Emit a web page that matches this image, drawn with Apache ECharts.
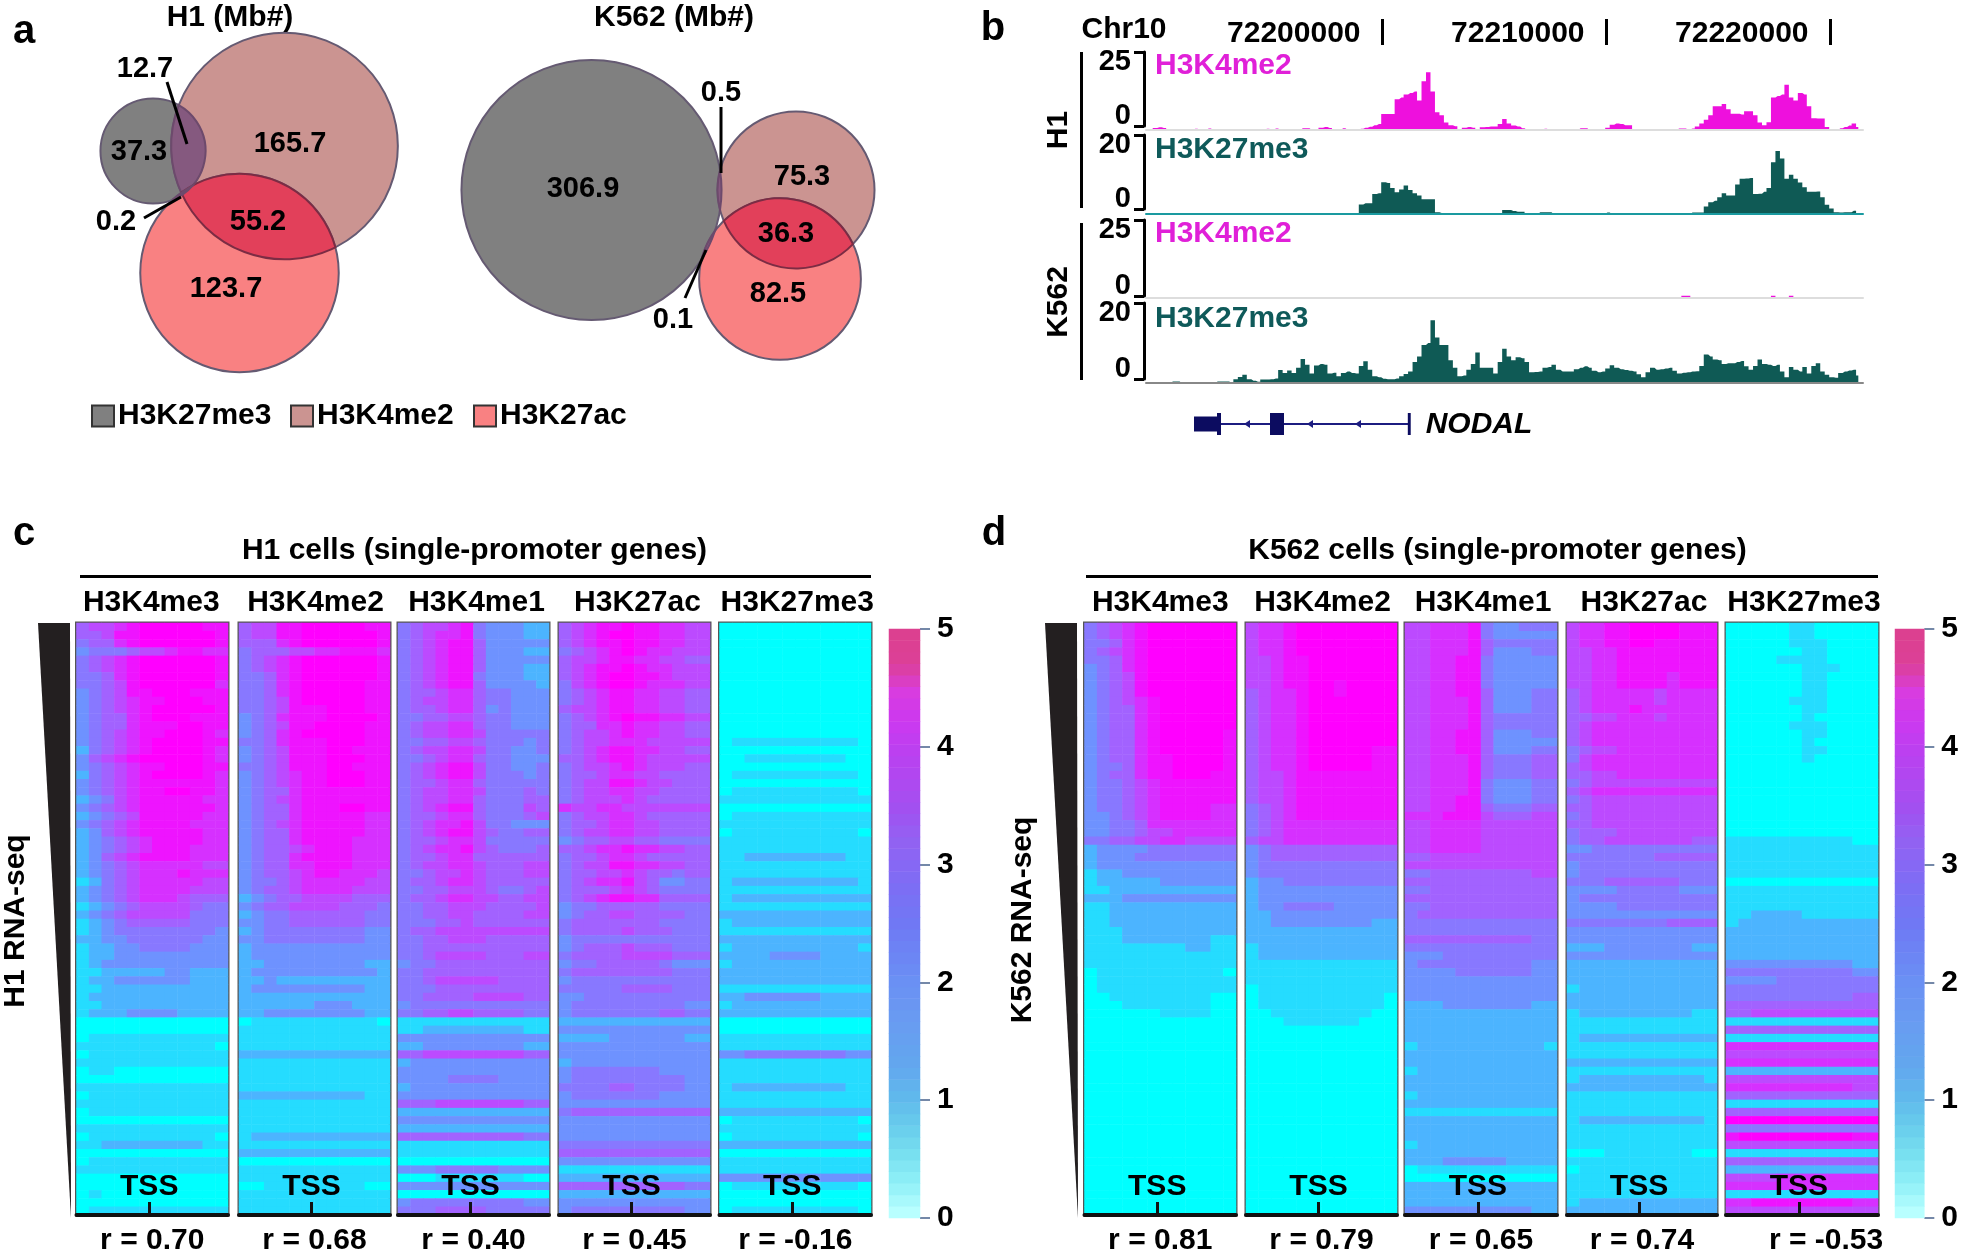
<!DOCTYPE html>
<html>
<head>
<meta charset="utf-8">
<style>html,body{margin:0;padding:0;background:#fff}#main{width:1961px;height:1257px}</style>
<script src="https://cdn.jsdelivr.net/npm/echarts@6/dist/echarts.min.js"></script>
</head>
<body>
<div id="main"></div>
<script>
// venn values, Mb
var legendNames = ['H3K27me3', 'H3K4me2', 'H3K27ac'];
var h1Values = {dark: 37.3, darkRose: 12.7, darkRed: 0.2, rose: 165.7, roseRed: 55.2, red: 123.7};
var k562Values = {dark: 306.9, darkRose: 0.5, darkRed: 0.1, rose: 75.3, roseRed: 36.3, red: 82.5};

// genome browser tracks, one value per 200 bp bin
var h1Me2 = [
    0,0,.7,.9,.7,0,0,0,0,0,0,.4,0,0,.5,0,0,0,0,0,
    0,0,0,0,0,0,0,.4,0,.5,0,0,0,0,0,.6,.6,0,0,.8,
    1,.7,0,0,.6,0,0,0,.4,.8,1.1,1.6,2,5.4,5.4,5.4,10.4,11,12,12.5,
    13,10,16.5,19.5,13,6,5,2.5,1.6,1.3,0,.8,1,.8,0,.9,1,1.2,1.2,2,
    3.7,2.2,1.5,1.2,.6,0,0,0,0,.4,0,0,0,0,0,0,0,.6,.6,0,
    0,0,0,.8,1.8,2.2,2,1.6,1.6,0,0,0,0,0,0,0,0,0,0,.5,
    .5,.2,.5,1.2,2.2,3.5,5,8,8,8.8,7,5.5,5.5,5.2,6.3,6.3,5,2.5,1.6,2.6,
    11,11.5,12,15.3,11,10,12.5,12,8,4,3.9,3.9,1,0,0,.6,1,1.5,2.2,1
];
var h1Me3 = [
    0,0,0,0,0,0,0,0,0,0,0,0,0,0,0,0,0,0,0,0,
    0,0,0,0,0,0,0,0,0,0,0,0,0,0,0,0,0,0,0,0,
    0,0,0,0,0,.3,0,0,2.6,2.9,2.9,5.4,5.6,8.6,8.4,7,5.9,6.6,7.7,6.5,
    5.6,5,4,4,4,.5,.3,.3,0,0,0,0,0,.3,0,0,0,0,0,0,
    1.1,1.1,.8,.6,.6,0,0,0,.5,.5,.5,0,0,0,0,0,0,0,0,0,
    0,0,0,.4,0,0,0,0,0,0,0,0,0,0,0,0,0,0,0,.3,
    0,0,.4,.4,.4,2,3.2,3.6,4.5,5.6,5,5,8,9.5,9.6,9.7,5.4,5.5,6,7,
    14,17,15,9.5,10.6,9.5,8.5,7.2,6,6,6.1,4.5,2.5,1.5,.5,.4,.5,.5,.9,.3
];
var k562Me2 = [
    0,0,0,0,0,0,0,0,0,0,0,0,0,0,0,0,0,0,0,0,
    0,0,0,0,0,0,0,0,0,0,0,0,0,0,0,0,0,0,0,0,
    0,0,0,0,0,0,0,0,0,0,0,0,0,0,0,0,0,0,0,0,
    0,0,0,0,0,0,0,0,0,0,0,0,0,0,0,0,0,0,0,0,
    0,0,0,0,0,0,0,0,0,0,0,0,0,0,0,0,0,0,0,0,
    0,0,0,0,0,0,0,0,0,0,0,0,0,0,0,0,0,0,0,0,
    .7,.7,0,0,0,0,0,0,0,0,0,0,0,0,0,0,0,0,0,0,
    .7,0,0,0,.7,0,0,0,0,0,0,0,0,0,0,0,0,0,0,0
];
var k562Me3 = [
    0,0,0,0,0,0,.4,.4,0,0,0,0,0,0,0,0,.4,.4,.4,.2,
    1,1.6,2.2,1,.6,.3,.9,.9,1,1.2,3.4,2.6,3.3,2.6,4,6.3,4.8,2.5,4.6,5,
    4.8,2.5,2.7,1.8,2.6,3,2.6,2.5,4.5,5.7,3.5,1.8,1.5,1.1,1,1,1.2,1.8,2.4,3,
    5.5,7,10,10.5,16.5,12,10,10,6,4,1.8,2,3.5,5,8,4,4,4,2.5,5.5,
    9,7,6,6.8,6.5,5.5,2.8,2.9,3,4,4.2,4.8,3.5,3,3,3,3.6,4,4.4,4,
    3.2,2.8,3,3.8,4.7,4,3.6,3.4,3.2,3,2.3,1.5,2.8,4,3.5,3.6,3.8,4,3.2,2.5,
    2.7,2.8,3,3.1,4.5,7.5,7,6.2,6,5,5.2,5.2,5.5,5.8,4.4,3.5,4.5,6.2,5,4.8,
    4.5,4.8,3,1.5,4.2,3.5,3,4.2,2.5,4.5,5.2,3,2.2,1.5,1.4,2.6,3,3.3,3.5,2
];
var rulerTicks = [72200000, 72210000, 72220000];
var trackStart = 72189442, trackEnd = 72221451, trackBin = 200;

// NODAL gene model
var exons = [[72191585, 72192612, 'utr'], [72192612, 72192790, 'cds'], [72194977, 72195602, 'cds'], [72201130, 72201260, 'cds']];
var intron = [72191585, 72201228];
var strandMarks = [72193950, 72196763, 72198906];

// heatmaps: rows top to bottom, one digit per bin, 0 = score 0 and 9 = score 5
var markNames = ['H3K4me3', 'H3K4me2', 'H3K4me1', 'H3K27ac', 'H3K27me3'];
var h1R = ['r = 0.70', 'r = 0.68', 'r = 0.40', 'r = 0.45', 'r = -0.16'];
var k562R = ['r = 0.81', 'r = 0.79', 'r = 0.65', 'r = 0.74', 'r = -0.53'];

var h1HeatMe3 = [
    "566789999988","556889999998","455789999998","344456678877","456789999998","456789999998",
    "445789999998","445689999997","345688999888","345678899988","345678999998","345578999888",
    "345578889988","345678899987","345678999988","245678999987","356789999987","345678899988",
    "245678999987","345678888887","345678899887","234678888877","345678888887","234568888877",
    "345678888777","235678888877","234567888877","234567888777","235678888777","234567777766",
    "234567778777","124567777766","234567777666","234567776555","123456666544","234566666444",
    "123455555444","123444444443","223344444433","122334444333","122333333333","123333333333",
    "112222233222","122333333222","112222222222","122222222222","112222222222","122233332222",
    "000000000000","000000000000","011111111111","111111111110","011111111111","111111111111",
    "011000000000","000000000000","111111111111","011111111111","111111111111","011111111111",
    "000000000000","111111111111","011111111110","112222222211","000000000000","011111111111",
    "111111111111","000000000000","000000000000","010000000000","000000000000","011111111111"
];
var h1HeatMe2 = [
    "566889999988","566889999998","555789999998","455566778887","456789999998","456789999998",
    "445789999998","445789999988","445789999988","445689999988","445688899988","345788899998",
    "345688999988","345789999988","445788899988","345688899888","345688899988","445688899888",
    "345678899988","345678899988","345578888888","345678888888","345578889988","345578888877",
    "345678888877","345578888877","345578888777","345567888777","345578888777","345577888777",
    "345567887776","344567777766","345567777666","234556666555","345566665554","234455555544",
    "334455555544","234444444433","334444444433","233333333333","233333333333","223333333322",
    "233333333332","223222222222","233333333322","222222222222","222222333222","223333333322",
    "011111111110","111111111111","111111111111","111111111111","222222222222","111111111111",
    "111111111111","111111111111","111111111111","222222222211","111111111111","111111111111",
    "111111111111","111111111111","122222222222","111111111111","222222222222","000000000000",
    "111111111111","111111111111","001111111100","111111111111","111111111111","111111111111"
];
var h1HeatMe1 = [
    "456678433322","456778433322","456788533333","456788533322","456788533333","456788533322",
    "456788433322","456788533332","455677544333","456677544333","455677534333","445566544333",
    "456677544333","456677644444","445566544434","456677644334","445677544333","456788644334",
    "456788644434","455677544444","456677644454","456677544455","456788544465","455677544456",
    "456778644333","456788654455","455677644444","456778654445","455677555555","456677655566",
    "445667655566","455677655555","445566654456","455677665566","445566655556","445566555566",
    "444556555555","455666666666","445566655555","445555555555","445666655566","344555555555",
    "445555555555","445666665555","444555555555","445555666655","344444444444","445566555544",
    "111111111111","112222222211","333333333333","223333333322","556666666655","233333333333",
    "333333333333","333344443333","233333333333","333333333333","555666666655","222222222222",
    "333333333333","222222222222","555555555544","111111111111","111111111111","000000000000",
    "333444443333","000111111100","333333333333","000000000000","344444444433","444555544444"
];
var h1HeatAc = [
    "567889887766","567899887766","567889887766","456789877666","566788776655","567889877666",
    "567899887666","467899877766","456788776655","456788776655","566788776655","456789887766",
    "455778776655","456678776655","456677766666","456788776655","556788766666","456678766655",
    "455677665555","456688766555","456677665555","456667655555","766776666666","456677655555",
    "455677665555","456677665555","345566554444","556778776655","455677655555","456688776655",
    "455667655455","456778653344","455567654444","456788775555","344555554444","345566555544",
    "455555554444","455556555444","344444444444","345556555444","455556666555","344555554333",
    "455555555444","344444444444","444445555444","334444444444","344444444433","344444445544",
    "222222222222","333333333333","222233333322","333333333333","333333333333","233333333333",
    "344444443333","344444444433","444455444433","344444443333","333333333333","455555555555",
    "333333333333","333333333333","333333333333","444444444444","555555555555","333333333333",
    "111111111111","222222222222","555555555544","222222222222","333333333333","344444444433"
];
var h1HeatK27me3 = [
    "000000000000","000000000000","000000000000","000000000000","000000000000","000000000000",
    "000000000000","000000000000","000000000000","000000000000","000000000000","000000000000",
    "000000000000","000000000000","011111111110","000000000000","001111111100","000000000000",
    "011111111110","000000000000","011111111110","111111111111","000000000000","011111111111",
    "111111111111","011111111110","111111111111","111111111111","112222222211","111111111111",
    "111111111111","122222222221","111111111111","122222222222","111111111111","222222222222",
    "122222222222","111111111111","222222222222","122222222221","222233332222","122222222222",
    "222222222222","222222222222","111111111111","223333332222","122222222222","222222222222",
    "000000000000","000000000000","111111111111","111111111111","334444444433","111111111111",
    "111111111111","111111111111","122222222211","111111111111","111111111111","222222222222",
    "011111111110","111111111111","011111111110","222222222222","000000000000","111111111111",
    "111111111111","333333333333","011111111110","000000000000","000000000000","011111111110"
];
var k562HeatMe3 = [
    "456789999999","456789999999","445789999999","456789999999","445789999999","345789999999",
    "345689999999","345689999999","345689999999","345678999999","345578999999","345578999999",
    "345578999999","345578999998","345578999998","345578999998","345578899998","344578899998",
    "345578899988","344567888888","344567888888","344567888888","344567888877","334567888877",
    "334457777777","334456677777","445566776666","233334444444","233344444444","233333333333",
    "122333333333","122222333333","112222222222","222333333333","112222222222","112222222222",
    "112222222222","111222222222","111222222211","111111112211","111111111111","111111111111",
    "011111111110","011111111111","011111111111","001111111100","000111111100","000000111100",
    "000000000000","000000000000","000000000000","000000000000","000000000000","000000000000",
    "000000000000","000000000000","000000000000","000000000000","000000000000","000000000000",
    "000000000000","000000000000","000000000000","000000000000","000000000000","000000000000",
    "000000000000","000000000000","000000000000","000000000000","000000000000","000000000000"
];
var k562HeatMe2 = [
    "677899999999","677899999999","677899999999","677899999999","667889999999","667889999999",
    "667889999999","667889989999","567789989999","567789999999","567789999999","567789999999",
    "567789999999","567789999999","567789999999","567789999988","567789999988","567789999988",
    "566788888888","566788888888","566788888888","566788888888","456788888888","456788888888",
    "456777777777","456777777777","566777777777","345555555555","345555555555","344444444444",
    "344444444444","233444444444","233333333333","233333333333","233444433333","223333333333",
    "223333333322","222222222222","222222222222","122222222222","122222222222","111111111111",
    "111111111111","111111111111","011111111111","011111111110","011111111110","001111111100",
    "000111111000","000000000000","000000000000","000000000000","000000000000","000000000000",
    "000000000000","000000000000","000000000000","000000000000","000000000000","000000000000",
    "000000000000","000000000000","000000000000","000000000000","000000000000","000000000000",
    "000000000000","000000000000","000000000000","000000000000","000000000000","000000000000"
];
var k562HeatMe1 = [
    "667778433444","667778433333","667778544444","667778533344","667788433333","667788433333",
    "667788433333","667788433333","667788533344","667778533344","667778533344","667778544444",
    "667778544444","667788533344","667788533333","667788533344","667778544455","667778544455",
    "667778544455","667778433344","667778433344","667788433344","667788544455","777888655566",
    "667777666666","667777666666","667777666666","667777666666","556666666666","666666666666",
    "445555555566","555555555555","445555555555","555555555555","445555555555","455555555555",
    "444444444444","444444444444","555555555544","444444444444","333444444444","344444444433",
    "333344444433","333333333333","333333333333","333333333333","222333333322","222222222222",
    "222222222222","222222222222","222222222222","122222222221","222222222222","222222222222",
    "122222222222","222222222222","222222222222","122222222222","222222222222","111111111111",
    "222222222222","222222222222","222222222222","122222222222","222222222222","222333332222",
    "011111111111","000000000000","222222222222","222222222222","222222222222","333333333322"
];
var k562HeatAc = [
    "677889999888","677889999888","677889988888","667788888888","667788888888","667788888888",
    "667788887888","667788887888","567777767777","567777767777","567778777777","556677767777",
    "567777777777","567777777777","567777777777","456677777777","467777777777","567777777777",
    "556677777777","456666666666","567777777777","456666666666","556666666666","456666666666",
    "556666666666","455566666666","455666666655","334444444444","444444455555","344444444444",
    "344444444444","444555555444","333344444333","344444444444","333344444444","333333333333",
    "444444445555","333333333333","333333333333","222333333322","333333333333","222222222222",
    "222222222222","222222222222","122222222222","222222222222","222222222222","122222222211",
    "111111111111","111111111111","122222222222","111111111111","111111111111","222222222222",
    "111111111111","122222222221","222222222222","111111111111","111111111111","111111111111",
    "122222222221","111111111111","111111111111","111111111111","000111111100","111111111111",
    "011111111111","111111111111","111111111111","111111111111","122222222222","222222222222"
];
var k562HeatK27me3 = [
    "000001100000","000001100000","000001110000","000000110000","000011110000","000000111000",
    "000000110000","000000110000","000000110000","000001110000","000000110000","000000100000",
    "000001110000","000000110000","000000100000","000000110000","000000100000","000000000000",
    "000000000000","000000000000","000000000000","000000000000","000000000000","000000000000",
    "000000000000","000000000000","111111111100","111111111111","111111111111","111111111111",
    "111111111111","000000000000","111111111111","111111111111","111111111111","112222111111",
    "122222222222","222222222222","222222222222","222222222222","222222222222","333333333322",
    "444444444433","333344444444","444444444444","444444444455","555555555555","556666666666",
    "111111111111","555555555555","111111111111","777777777777","666666666666","777777777777",
    "222222222222","666666666666","777777777766","555555555555","111111111111","555555555555",
    "999999999999","444444444444","899999999988","666666666666","111111111111","555555555555",
    "222222222222","666677777777","777777777777","111111111111","778888888877","666666666666"
];
var heatPalette = ['#00ffff', '#25dcff', '#4cb4ff', '#6e92ff', '#8878ff', '#a262ff', '#bc4aff', '#d630ff', '#ee14ff', '#ff00ff'];
var colorbarLevels = [
    0,.1,.2,.3,.4,.5,.6,.7,.8,.9,1,1.1,1.2,1.3,1.4,1.5,1.6,1.7,1.8,1.9,2,2.1,2.2,2.3,2.4,2.5,
    2.6,2.7,2.8,2.9,3,3.1,3.2,3.3,3.4,3.5,3.6,3.7,3.8,3.9,4,4.1,4.2,4.3,4.4,4.5,4.6,4.7,4.8,4.9,5
];
var colorbarPalette = ['#b8ffff', '#90f0f8', '#78e0f0', '#68ccec', '#60b8ec', '#62a8ee', '#66a0f0', '#6a98f2', '#6a90f4', '#6c84f4',
    '#7078f4', '#7a70f4', '#8668f4', '#9460f2', '#a250f0', '#b048f0', '#bc40f0', '#cc38f0', '#d83ce0', '#dc4098', '#dc4090'];

// layout, all in page pixels
var font = '"Liberation Sans", Arial, sans-serif';
var heatTop = 623, heatHeight = 594;
var h1PanelX = [[76.5, 228], [239, 390], [398, 549], [559, 710], [719.5, 871]];
var k562PanelX = [[1084.5, 1236], [1246, 1397], [1405, 1557], [1567, 1717], [1726, 1878]];
var h1LabelShift = [-1, 1, 3, 3, 2];
var k562LabelShift = [0, 1, 2, 2, 2];
var vennCentres = {
    H3K27me3: [[153, 151], [591.5, 190]],
    H3K4me2: [[284.5, 146], [796, 190]],
    H3K27ac: [[239.5, 273], [780, 279]]
};
var vennColors = {H3K27me3: '#808080', H3K4me2: '#cb9491', H3K27ac: '#f98182'};
var AREA_PER_MB = 55;

function vennRadius(total) {
    return Math.sqrt(total * AREA_PER_MB);
}
function vennTotals(v) {
    return [v.dark + v.darkRose + v.darkRed, v.rose + v.darkRose + v.roseRed, v.red + v.roseRed + v.darkRed];
}

var grids = [], xAxes = [], yAxes = [], series = [], heatSeries = [], barSeries = [];

function addGrid(rect, x, y) {
    grids.push(rect);
    var idx = grids.length - 1;
    x.gridIndex = idx;
    y.gridIndex = idx;
    xAxes.push(x);
    yAxes.push(y);
    return {grid: idx, x: xAxes.length - 1, y: yAxes.length - 1};
}

// panel a
var vennAxes = addGrid({left: 0, top: 0, width: 950, height: 400},
    {type: 'value', min: 0, max: 950, show: false},
    {type: 'value', min: 0, max: 400, inverse: true, show: false});
var cellTotals = [vennTotals(h1Values), vennTotals(k562Values)];
legendNames.forEach(function (name, m) {
    series.push({
        name: name,
        type: 'scatter',
        xAxisIndex: vennAxes.x,
        yAxisIndex: vennAxes.y,
        symbolSize: function (v) { return 2 * vennRadius(v[2]); },
        itemStyle: {color: vennColors[name], opacity: 1, borderColor: '#655a72', borderWidth: 2},
        data: vennCentres[name].map(function (c, cell) { return [c[0], c[1], cellTotals[cell][m]]; }),
        z: 2 + m
    });
});

function lensPath(c1, r1, c2, r2) {
    var dx = c2[0] - c1[0], dy = c2[1] - c1[1];
    var d = Math.sqrt(dx * dx + dy * dy);
    var a = (r1 * r1 - r2 * r2 + d * d) / (2 * d);
    var h = Math.sqrt(Math.max(r1 * r1 - a * a, 0));
    var mx = c1[0] + a * dx / d, my = c1[1] + a * dy / d;
    var p1 = [mx - h * dy / d, my + h * dx / d], p2 = [mx + h * dy / d, my - h * dx / d];
    return 'M' + p1[0] + ' ' + p1[1] + 'A' + r1 + ' ' + r1 + ' 0 ' + (a < 0 ? 1 : 0) + ' 0 ' + p2[0] + ' ' + p2[1] +
        'A' + r2 + ' ' + r2 + ' 0 ' + (d - a < 0 ? 1 : 0) + ' 0 ' + p1[0] + ' ' + p1[1] + 'Z';
}
// overlaps: cell, first mark, second mark
var vennOverlaps = [[0, 0, 1], [0, 1, 2], [0, 0, 2], [1, 0, 1], [1, 1, 2], [1, 0, 2]];
var lensColors = ['#85597f', '#e2405a', '#85597f'];
var lensStroke = ['#6d4a6c', '#7c2c44', '#6d4a6c'];
series.push({
    type: 'custom',
    xAxisIndex: vennAxes.x,
    yAxisIndex: vennAxes.y,
    z: 6,
    silent: true,
    data: vennOverlaps.map(function (o, i) { return [i, o[0]]; }),
    renderItem: function (params, api) {
        var o = vennOverlaps[api.value(0)];
        var c1 = vennCentres[legendNames[o[1]]][o[0]], c2 = vennCentres[legendNames[o[2]]][o[0]];
        var p1 = api.coord(c1), p2 = api.coord(c2);
        var k = o[1] === 0 && o[2] === 1 ? 0 : (o[1] === 1 ? 1 : 2);
        return {
            type: 'path',
            shape: {pathData: lensPath(p1, vennRadius(cellTotals[o[0]][o[1]]), p2, vennRadius(cellTotals[o[0]][o[2]]))},
            style: {fill: lensColors[k], stroke: lensStroke[k], lineWidth: 2}
        };
    }
});

// panel b
var trackLeft = 1146, trackWidth = 717;
var rulerAxes = addGrid({left: trackLeft, top: 19, width: trackWidth, height: 26},
    {
        type: 'value', min: trackStart, max: trackEnd, position: 'bottom',
        axisLine: {show: false}, splitLine: {show: false},
        axisTick: {show: true, inside: true, length: 26, customValues: rulerTicks, lineStyle: {color: '#000', width: 3}},
        axisLabel: {
            show: true, inside: true, customValues: rulerTicks, margin: -4, align: 'right',
            padding: [0, 22, 0, 0], color: '#000', fontFamily: font, fontWeight: 'bold', fontSize: 30,
            formatter: function (v) { return String(v); }
        }
    },
    {type: 'value', min: 0, max: 1, show: false});

var trackDefs = [
    {data: h1Me2, max: 25, top: 52, bottom: 126, base: 130, color: '#ee10dd', baseColor: '#dddddd'},
    {data: h1Me3, max: 20, top: 135, bottom: 209, base: 214, color: '#0f5a55', baseColor: '#1a9aa0'},
    {data: k562Me2, max: 25, top: 220, bottom: 296, base: 298, color: '#ee10dd', baseColor: '#dddddd'},
    {data: k562Me3, max: 20, top: 303, bottom: 379, base: 383, color: '#0f5a55', baseColor: '#888888'}
];
trackDefs.forEach(function (t) {
    var unitPx = (t.bottom - t.top) / t.max;
    var a = addGrid({left: trackLeft, top: t.top, width: trackWidth, height: t.base - t.top},
        {
            type: 'value', min: trackStart, max: trackEnd, z: 5,
            axisLine: {show: true, onZero: false, lineStyle: {color: t.baseColor, width: 2}},
            axisTick: {show: false}, axisLabel: {show: false}, splitLine: {show: false}
        },
        {type: 'value', min: 0, max: (t.base - t.top) / unitPx, show: false});
    series.push({
        type: 'line',
        xAxisIndex: a.x,
        yAxisIndex: a.y,
        step: 'middle',
        showSymbol: false,
        silent: true,
        lineStyle: {width: 0},
        areaStyle: {color: t.color, opacity: 1, origin: 'start'},
        data: t.data.map(function (v, i) { return [trackStart + i * trackBin, v]; }),
        z: 3
    });
    // bracket axis sits a little above the track baseline
    addGrid({left: trackLeft - 2, top: t.top, width: 10, height: t.bottom - t.top},
        {type: 'value', min: 0, max: 1, show: false},
        {
            type: 'value', min: 0, max: t.max, interval: t.max, position: 'left',
            axisLine: {show: true, lineStyle: {color: '#000', width: 3}},
            axisTick: {show: true, length: 10, lineStyle: {color: '#000', width: 3}},
            splitLine: {show: false},
            axisLabel: {
                show: true, margin: 13, color: '#000', fontFamily: font, fontWeight: 'bold', fontSize: 29, lineHeight: 20,
                verticalAlignMinLabel: 'bottom', verticalAlignMaxLabel: 'top'
            }
        });
});

var geneAxes = addGrid({left: trackLeft, top: 404, width: trackWidth, height: 40},
    {type: 'value', min: trackStart, max: trackEnd, show: false},
    {type: 'value', min: -1, max: 1, show: false});
series.push({
    type: 'line', xAxisIndex: geneAxes.x, yAxisIndex: geneAxes.y, showSymbol: false, silent: true,
    lineStyle: {color: '#1c1c80', width: 2},
    data: intron.map(function (g) { return [g, 0]; }), z: 3
});
series.push({
    type: 'scatter', xAxisIndex: geneAxes.x, yAxisIndex: geneAxes.y, symbol: 'triangle', symbolRotate: 90,
    symbolSize: [8, 6], silent: true, itemStyle: {color: '#1c1c80', opacity: 1},
    data: strandMarks.map(function (g) { return [g, 0]; }), z: 4
});
series.push({
    type: 'custom', xAxisIndex: geneAxes.x, yAxisIndex: geneAxes.y, silent: true, z: 4,
    data: exons.map(function (e) { return [e[0], e[1], e[2] === 'cds' ? 1 : 0]; }),
    renderItem: function (params, api) {
        var a = api.coord([api.value(0), 0]), b = api.coord([api.value(1), 0]);
        var h = api.value(2) ? 22 : 15;
        return {type: 'rect', shape: {x: a[0], y: a[1] - h / 2, width: b[0] - a[0], height: h}, style: {fill: '#0c0c60'}};
    }
});

// panels c and d
function addHeatPanel(rows, span, label, rText, rShift, labelShift) {
    var nCols = rows[0].length;
    var cols = [], rowIdx = [], cells = [];
    for (var c = 0; c < nCols; c++) cols.push(c);
    rows.forEach(function (row, r) {
        rowIdx.push(r);
        for (var c = 0; c < nCols; c++) cells.push([c, r, Number(row[c]) / 9 * 5]);
    });
    var rect = {left: span[0], top: heatTop, width: span[1] - span[0], height: heatHeight, show: true, borderColor: '#555555', borderWidth: 3};
    var a = addGrid(rect,
        {
            type: 'category', data: cols, position: 'top',
            axisLine: {show: false}, axisTick: {show: false}, axisLabel: {show: false}, splitLine: {show: false},
            name: label, nameLocation: 'middle', nameGap: 5,
            nameTextStyle: {
                color: '#000', fontFamily: font, fontWeight: 'bold', fontSize: 30, verticalAlign: 'bottom',
                padding: labelShift >= 0 ? [0, 0, 0, 2 * labelShift] : [0, -2 * labelShift, 0, 0]
            }
        },
        {type: 'category', data: rowIdx, inverse: true, show: false});
    // TSS sits at the middle of each -/+ window
    var tss = [-0.04];
    xAxes.push({
        type: 'value', gridIndex: a.grid, min: -1, max: 1, position: 'bottom', z: 10,
        axisLine: {show: true, onZero: false, lineStyle: {color: '#111', width: 4}},
        axisTick: {show: true, inside: true, length: 13, customValues: tss, lineStyle: {color: '#111', width: 3}},
        axisLabel: {
            show: true, inside: true, margin: 13, customValues: tss, color: '#000', fontFamily: font, fontWeight: 'bold', fontSize: 30,
            formatter: function () { return 'TSS'; }
        },
        splitLine: {show: false},
        name: rText, nameLocation: 'middle', nameGap: 11,
        nameTextStyle: {color: '#000', fontFamily: font, fontWeight: 'bold', fontSize: 30, verticalAlign: 'top', padding: [0, 0, 0, rShift || 0]}
    });
    heatSeries.push(series.length);
    series.push({
        type: 'heatmap', xAxisIndex: a.x, yAxisIndex: a.y, silent: true, progressive: 0,
        emphasis: {disabled: true}, data: cells, z: 2
    });
}
[h1HeatMe3, h1HeatMe2, h1HeatMe1, h1HeatAc, h1HeatK27me3].forEach(function (rows, i) {
    addHeatPanel(rows, h1PanelX[i], markNames[i], h1R[i], 0, h1LabelShift[i]);
});
[k562HeatMe3, k562HeatMe2, k562HeatMe1, k562HeatAc, k562HeatK27me3].forEach(function (rows, i) {
    addHeatPanel(rows, k562PanelX[i], markNames[i], k562R[i], i === 4 ? 48 : 0, k562LabelShift[i]);
});

function addColorbar(left, width) {
    var cells = colorbarLevels.map(function (v, i) { return [0, i, v]; });
    var a = addGrid({left: left, top: 629, width: width, height: 589},
        {type: 'category', data: ['score'], show: false},
        {type: 'category', data: colorbarLevels, show: false});
    yAxes.push({
        type: 'value', gridIndex: a.grid, min: 0, max: 5, interval: 1, position: 'right',
        axisLine: {show: false}, splitLine: {show: false},
        axisTick: {show: true, length: 10, lineStyle: {color: '#7488a8', width: 2}},
        axisLabel: {show: true, margin: 17, padding: [7, 0, 0, 0], color: '#000', fontFamily: font, fontWeight: 'bold', fontSize: 30}
    });
    barSeries.push(series.length);
    series.push({
        type: 'heatmap', xAxisIndex: a.x, yAxisIndex: a.y, silent: true, progressive: 0,
        emphasis: {disabled: true}, data: cells, z: 2
    });
}
addColorbar(889, 31);
addColorbar(1895, 30);

// free text and lines
var graphics = [];
function txt(text, x, y, opts) {
    opts = opts || {};
    graphics.push({
        type: 'text', x: x, y: y + 2, rotation: opts.rotation || 0, z: 20,
        style: {
            text: String(text), x: 0, y: 0, align: opts.align || 'center', verticalAlign: 'middle',
            font: (opts.style || '') + ' bold ' + (opts.size || 30) + 'px ' + font, fill: opts.fill || '#000'
        }
    });
}
function rule(x1, y1, x2, y2, w, color) {
    graphics.push({
        type: 'line', z: 19, shape: {x1: x1, y1: y1, x2: x2, y2: y2},
        style: {stroke: color || '#000', lineWidth: w || 3}
    });
}

txt('a', 24, 30, {size: 40});
txt('b', 993, 27, {size: 40});
txt('c', 24, 532, {size: 40});
txt('d', 994, 532, {size: 40});

txt('H1 (Mb#)', 230, 16);
txt('K562 (Mb#)', 674, 16);
txt(h1Values.darkRose.toFixed(1), 145, 67, {size: 29});
txt(h1Values.dark, 139, 150, {size: 29});
txt(h1Values.rose, 290, 142, {size: 29});
txt(h1Values.roseRed, 258, 220, {size: 29});
txt(h1Values.red, 226, 287, {size: 29});
txt(h1Values.darkRed, 116, 220, {size: 29});
txt(k562Values.dark, 583, 187, {size: 29});
txt(k562Values.darkRose, 721, 91, {size: 29});
txt(k562Values.rose, 802, 175, {size: 29});
txt(k562Values.roseRed, 786, 232, {size: 29});
txt(k562Values.red, 778, 292, {size: 29});
txt(k562Values.darkRed, 673, 318, {size: 29});
rule(167, 82, 187, 144, 3);
rule(144, 218, 181, 197, 3);
rule(721, 107, 721, 173, 3);
rule(685, 298, 706, 250, 3);

txt('Chr10', 1124, 28);
txt('H3K4me2', 1155, 64, {align: 'left', fill: '#e020d8'});
txt('H3K27me3', 1155, 148, {align: 'left', fill: '#0f5a5a'});
txt('H3K4me2', 1155, 232, {align: 'left', fill: '#e020d8'});
txt('H3K27me3', 1155, 317, {align: 'left', fill: '#0f5a5a'});
txt('H1', 1059, 128, {rotation: Math.PI / 2});
txt('K562', 1059, 300, {rotation: Math.PI / 2});
rule(1081.5, 52, 1081.5, 208, 3);
rule(1081.5, 223, 1081.5, 380, 3);
txt('NODAL', 1479, 423, {style: 'italic'});

txt('H1 cells (single-promoter genes)', 474.5, 549);
txt('K562 cells (single-promoter genes)', 1497.5, 549);
rule(80, 576.5, 871, 576.5, 3);
rule(1086, 576.5, 1878, 576.5, 3);
txt('H1 RNA-seq', 16, 919, {rotation: Math.PI / 2});
txt('K562 RNA-seq', 1023, 918, {rotation: Math.PI / 2});
graphics.push({type: 'polygon', z: 19, shape: {points: [[38, 623], [70, 623], [71, 1218]]}, style: {fill: '#231f20'}});
graphics.push({type: 'polygon', z: 19, shape: {points: [[1045, 623], [1077, 623], [1078, 1218]]}, style: {fill: '#231f20'}});

var legendLeft = [91, 290, 473];
var option = {
    animation: false,
    backgroundColor: '#ffffff',
    grid: grids,
    xAxis: xAxes,
    yAxis: yAxes,
    series: series,
    graphic: {elements: graphics},
    legend: legendNames.map(function (name, i) {
        return {
            data: [name], left: legendLeft[i], top: 401, padding: 0, icon: 'rect', itemWidth: 22, itemHeight: 21, itemGap: 0,
            selectedMode: false, inactiveColor: '#ccc',
            itemStyle: {borderColor: '#333', borderWidth: 2},
            textStyle: {color: '#000', fontFamily: font, fontWeight: 'bold', fontSize: 30, padding: [0, 0, 0, -1]}
        };
    }),
    visualMap: [
        {show: false, type: 'continuous', min: 0, max: 5, dimension: 2, seriesIndex: heatSeries, inRange: {color: heatPalette}},
        {show: false, type: 'continuous', min: 0, max: 5, dimension: 2, seriesIndex: barSeries, inRange: {color: colorbarPalette}}
    ]
};

var chart = echarts.init(document.getElementById('main'), null, {renderer: 'canvas', width: 1961, height: 1257});
chart.setOption(option);
</script>
</body>
</html>
